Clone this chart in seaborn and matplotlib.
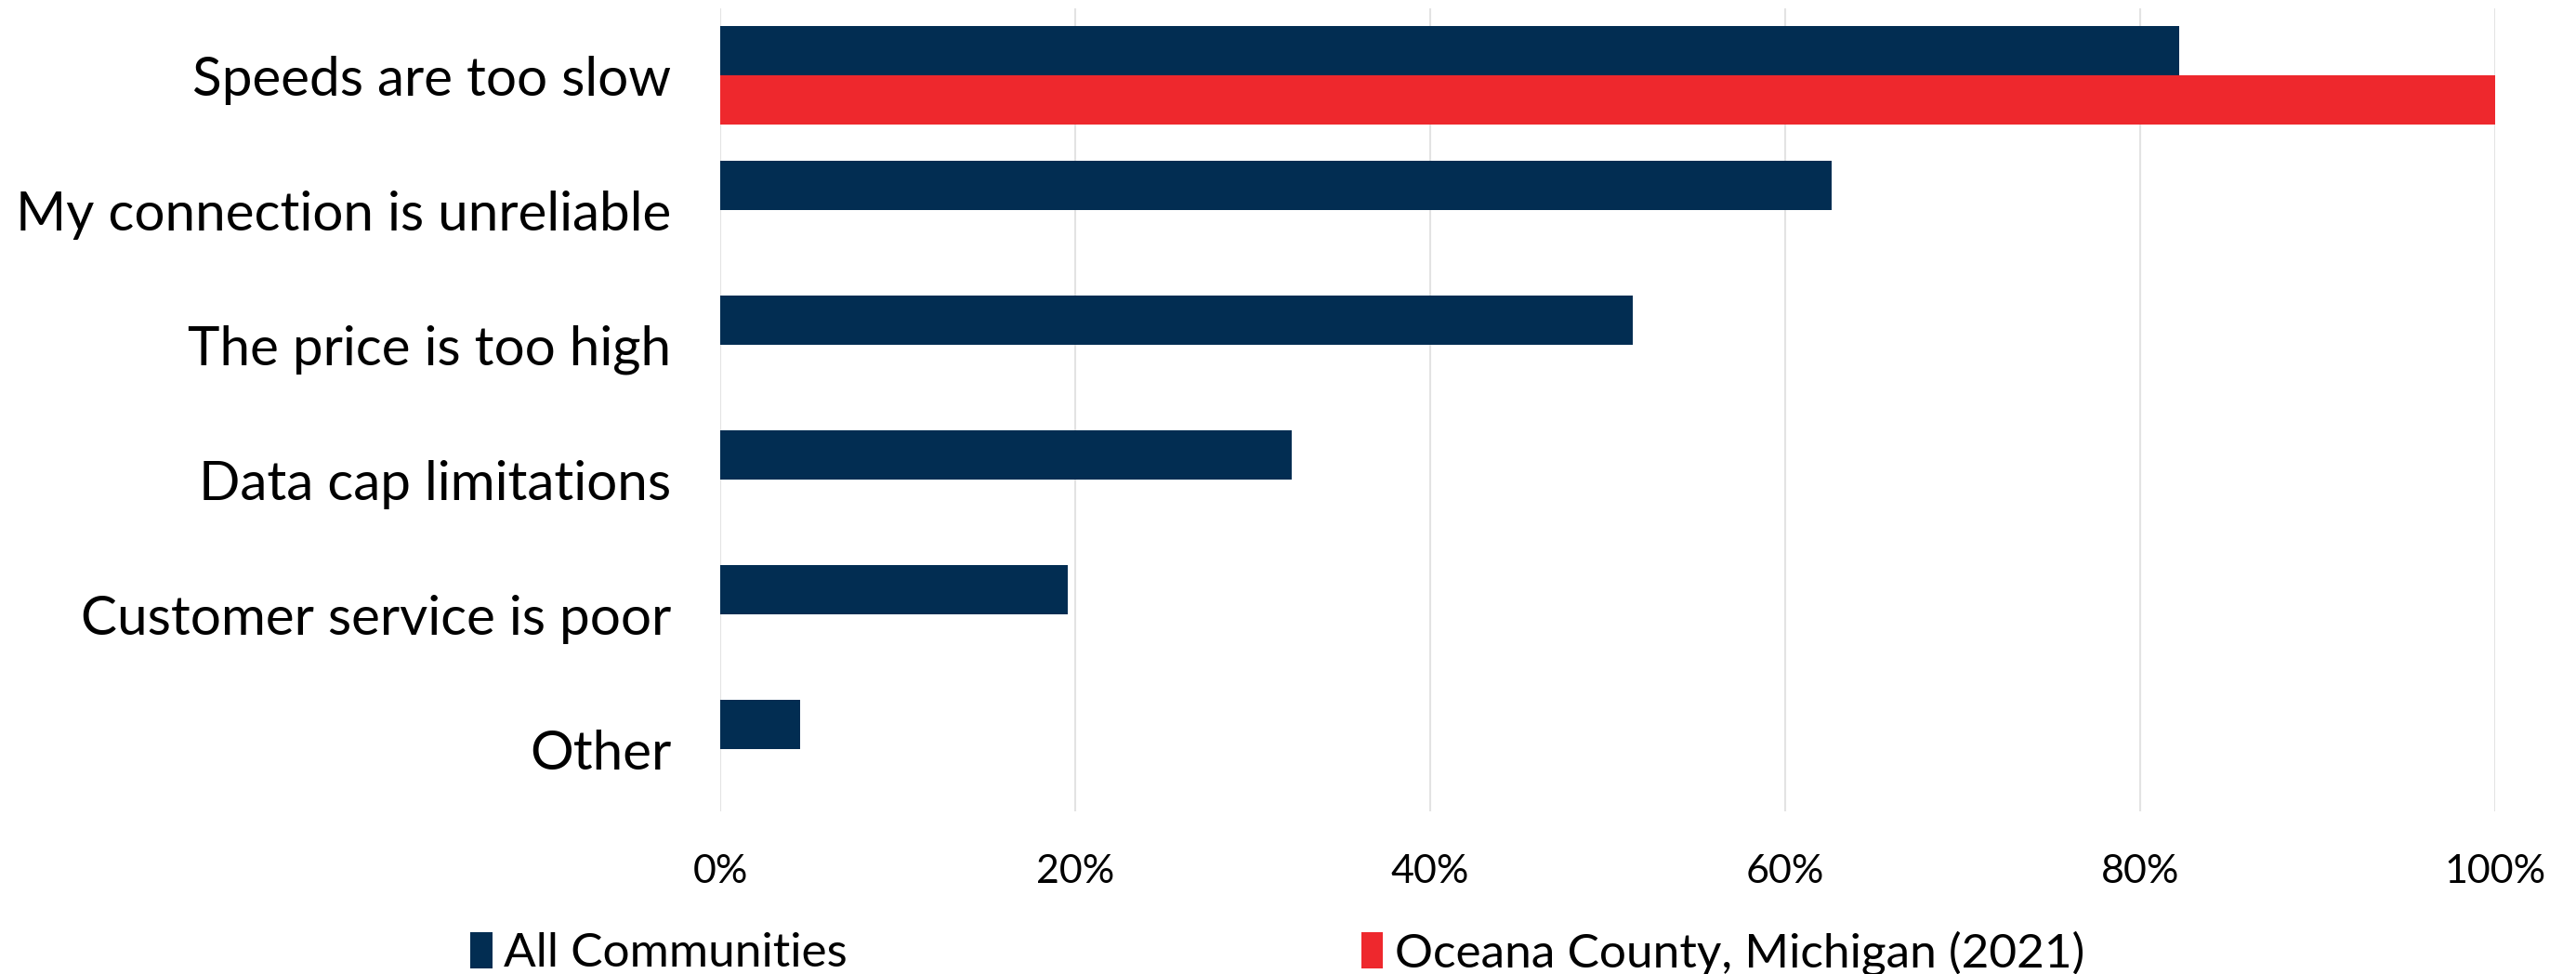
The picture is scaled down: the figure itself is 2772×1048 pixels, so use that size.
import matplotlib
matplotlib.use("Agg")
import matplotlib.pyplot as plt
import seaborn as sns
import pandas as pd
import numpy as np
from matplotlib.ticker import PercentFormatter

categories = ["Speeds are too slow", "My connection is unreliable", "The price is too high",
              "Data cap limitations", "Customer service is poor", "Other"]
all_communities = [82.2, 62.6, 51.4, 32.2, 19.6, 4.5]
oceana = [100.0, np.nan, np.nan, np.nan, np.nan, np.nan]
series_names = ["All Communities", "Oceana County, Michigan (2021)"]
xticks = [0, 20, 40, 60, 80, 100]

df = pd.DataFrame({
    "category": categories * 2,
    "value": all_communities + oceana,
    "series": [series_names[0]] * len(categories) + [series_names[1]] * len(categories),
})

sns.set_theme(style="white")
plt.rcParams["font.family"] = ["Lato", "DejaVu Sans"]
plt.rcParams["text.color"] = "#000000"
plt.rcParams["xtick.color"] = "#000000"
plt.rcParams["ytick.color"] = "#000000"

fig = plt.figure(figsize=(27.72, 10.48), dpi=100)
ax = fig.add_axes([0.2796, 0.167, 0.689, 0.8246])

palette = {series_names[0]: "#022D52", series_names[1]: "#EE282D"}
sns.barplot(data=df, y="category", x="value", hue="series", order=categories,
            hue_order=series_names, palette=palette, width=0.73, saturation=1,
            orient="h", ax=ax, legend=True, linewidth=0)

ax.set_xlim(0, 100)
ax.set_ylim(5.46, -0.5)
ax.set_xticks(xticks)
ax.xaxis.set_major_formatter(PercentFormatter(decimals=0))
ax.grid(axis="x", color="#E3E3E3", linewidth=1.5)
ax.grid(axis="y", visible=False)
ax.set_axisbelow(True)
for s in ax.spines.values():
    s.set_visible(False)
ax.set_xlabel("")
ax.set_ylabel("")
ax.tick_params(axis="y", length=0, pad=38, labelsize=42, labelcolor="#000000")
ax.tick_params(axis="x", length=0, pad=33, labelsize=31, labelcolor="#000000")

handles, labels = ax.get_legend_handles_labels()
ax.get_legend().remove()
leg = fig.legend(handles, labels, loc="lower center", bbox_to_anchor=(0.4959, -0.046), ncol=2,
                 frameon=False, fontsize=37, handlelength=0.45, handleheight=0.8,
                 handletextpad=0.25, columnspacing=10.75)
for t in leg.get_texts():
    t.set_color("#000000")

fig.savefig("out.png", dpi=100)
